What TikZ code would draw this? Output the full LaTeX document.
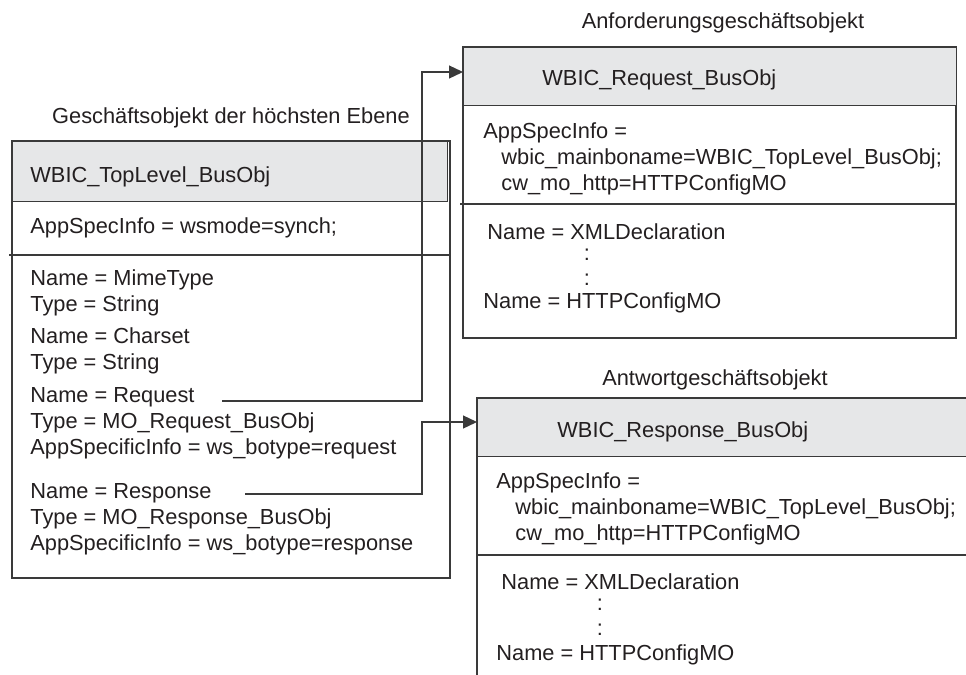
\documentclass[tikz,border=0pt]{standalone}
\usepackage{fontspec}
\setmainfont{Liberation Sans}
\usepackage{xcolor}
\usetikzlibrary{arrows.meta,positioning}
\definecolor{ink}{HTML}{231F20}
\definecolor{hdrgray}{HTML}{E6E7E8}
\definecolor{framegray}{HTML}{3A3A3A}

\begin{document}
\begin{tikzpicture}[x=0.5pt,y=-0.5pt,
    every node/.style={font=\fontsize{10.9}{13}\selectfont,text=ink,inner sep=0pt},
    txt/.style={anchor=west},
    field/.style={anchor=north west,align=left},
    frame/.style={draw=framegray,line width=0.65pt},
    hdr/.style={frame,fill=hdrgray,anchor=north west,minimum height=29pt},
    link/.style={draw=framegray,line width=0.65pt,-{Triangle[length=7pt,width=6.5pt]}}]
  \useasboundingbox (0,0) rectangle (966,675);

  % top level business object
  \draw[frame] (12,141) rectangle (450,578);
  \node[hdr,minimum width=217.5pt,minimum height=30pt] (tophead) at (12,141) {};
  \draw[frame] (9,255) -- (450,255);
  \node (toptitle) at (231,118) {Geschäftsobjekt der höchsten Ebene};
  \node[txt] (topname) at (30,177) {WBIC\_TopLevel\_BusObj};
  \node[txt] (topinfo) at (30,228) {AppSpecInfo = wsmode=synch;};
  \node[field] (mime) at (30,269) {Name = MimeType\\Type = String};
  \node[field] (charset) at (30,327) {Name = Charset\\Type = String};
  \node[field] (request) at (30,387) {Name = Request\\Type = MO\_Request\_BusObj\\AppSpecificInfo = ws\_botype=request};
  \node[field] (response) at (30,483) {Name = Response\\Type = MO\_Response\_BusObj\\AppSpecificInfo = ws\_botype=response};

  % request business object
  \draw[frame] (463,47) rectangle (956,338);
  \node[hdr,minimum width=246.5pt] (reqhead) at (463,47) {};
  \draw[frame] (460,204) -- (956,204);
  \node (reqtitle) at (723,23) {Anforderungsgeschäftsobjekt};
  \node[txt] (reqname) at (542,80) {WBIC\_Request\_BusObj};
  \node[field] (reqinfo) at (483,122) {AppSpecInfo =\\\hspace*{9pt}wbic\_mainboname=WBIC\_TopLevel\_BusObj;\\\hspace*{9pt}cw\_mo\_http=HTTPConfigMO};
  \node[txt] (reqfirst) at (487,232) {Name = XMLDeclaration};
  \node (reqdota) at (587,255) {:};
  \node (reqdotb) at (587,280) {:};
  \node[txt] (reqlast) at (483,303) {Name = HTTPConfigMO};

  % response business object
  \node[anchor=north west,fill=hdrgray,minimum width=244.5pt,minimum height=29pt] (resphead) at (477,398) {};
  \draw[frame] (resphead.north east) -- (resphead.north west) -- (477,675);
  \draw[frame] (resphead.south west) -- (resphead.south east);
  \draw[frame] (476,555) -- (966,555);
  \node (resptitle) at (715,380) {Antwortgeschäftsobjekt};
  \node[txt] (respname) at (557,432) {WBIC\_Response\_BusObj};
  \node[field] (respinfo) at (496,472) {AppSpecInfo =\\\hspace*{9.5pt}wbic\_mainboname=WBIC\_TopLevel\_BusObj;\\\hspace*{9.5pt}cw\_mo\_http=HTTPConfigMO};
  \node[txt] (respfirst) at (501,582) {Name = XMLDeclaration};
  \node (respdota) at (600,605) {:};
  \node (respdotb) at (600,630) {:};
  \node[txt] (resplast) at (496,655) {Name = HTTPConfigMO};

  % connectors
  \coordinate (reqout) at (222,401);
  \coordinate (reqbend) at (422,72);
  \coordinate (respout) at (245,494);
  \coordinate (respbend) at (422,422);
  \draw[link] (reqout) -| (reqbend) -- (reqhead.west |- reqbend);
  \draw[link] (respout) -| (respbend) -- (resphead.west |- respbend);
\end{tikzpicture}
\end{document}
